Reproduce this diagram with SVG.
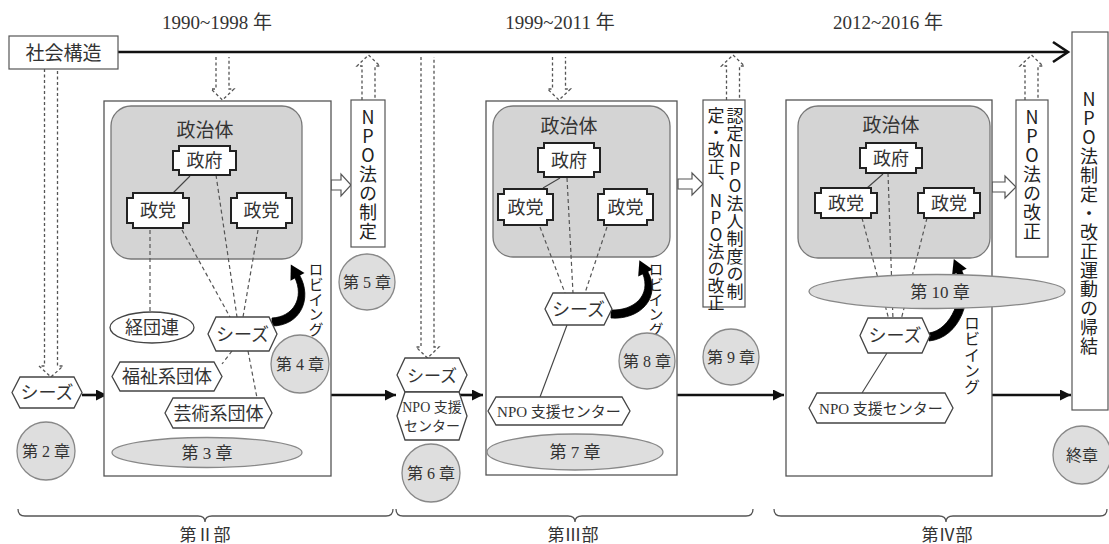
<svg xmlns="http://www.w3.org/2000/svg" width="1109" height="544" viewBox="0 0 1109 544">
<defs>
<style>
.t{font-family:"Liberation Serif","Noto Sans CJK JP",serif;fill:#333;text-anchor:middle}
.v{font-family:"Noto Sans CJK JP","Liberation Sans",sans-serif;fill:#222;writing-mode:vertical-rl;text-orientation:upright}
.panel{fill:#fff;stroke:#555;stroke-width:1.3}
.gray{fill:#d4d4d4;stroke:#777;stroke-width:1.3}
.box{fill:#fff;stroke:#555;stroke-width:1.2}
.gov{fill:#fff;stroke:#222;stroke-width:2}
.hex{fill:#fff;stroke:#444;stroke-width:1.3}
.ch{fill:#dedede;stroke:#888;stroke-width:1.3}
.dl{fill:none;stroke:#555;stroke-width:1.2;stroke-dasharray:4 3}
.sl{fill:none;stroke:#444;stroke-width:1.1}
.da{fill:none;stroke:#555;stroke-width:1.3;stroke-dasharray:3 2.5}
.flow{fill:none;stroke:#111;stroke-width:2.6}
.hol{fill:#fff;stroke:#555;stroke-width:1.2}
.lob{fill:#000;stroke:#000;stroke-width:0.8}
.brace{fill:none;stroke:#555;stroke-width:1.3}
</style>
<marker id="ah" viewBox="0 0 10 10" refX="10" refY="5" markerWidth="12" markerHeight="11" markerUnits="userSpaceOnUse" orient="auto">
<path d="M0,0 L10,5 L0,10z" fill="#111"/>
</marker>
</defs>
<rect width="1109" height="544" fill="#fff"/>

<g id="years">
<text class="t" x="217" y="29" font-size="19">1990~1998 年</text>
<text class="t" x="560" y="29" font-size="19">1999~2011 年</text>
<text class="t" x="888" y="29" font-size="19">2012~2016 年</text>
</g>

<g id="connectors">
<path class="flow" d="M118,52 L1066,52"/>
<path class="flow" d="M1053,42 L1068,52 L1053,62"/>
<polyline class="da" points="44.5,69 44.5,366 39,366 51,377 63,366 57.5,366 57.5,69"/>
<polyline class="da" points="216,57 216,89 211,89 222.5,100 234,89 229,89 229,57"/>
<polyline class="da" points="421,57 421,347 416,347 427.5,358 439,347 434,347 434,57"/>
<polyline class="da" points="552.5,57 552.5,89 547.5,89 559,100 570.5,89 565.5,89 565.5,57"/>
<polyline class="da" points="362,100 362,66 357,66 368.5,55 380,66 375,66 375,100"/>
<polyline class="da" points="726.5,100 726.5,66 721.5,66 733,55 744.5,66 739.5,66 739.5,100"/>
<polyline class="da" points="1025,100 1025,66 1020,66 1031.5,55 1043,66 1038,66 1038,100"/>
<path class="flow" d="M82,395 L107,395" marker-end="url(#ah)"/>
<path class="flow" d="M331,395 L396,395" marker-end="url(#ah)"/>
<path class="flow" d="M458,395 L483,395" marker-end="url(#ah)"/>
<path class="flow" d="M677,395 L784,395" marker-end="url(#ah)"/>
<path class="flow" d="M992,395 L1071,395" marker-end="url(#ah)"/>
<polygon class="hol" points="331,180 341,180 341,174 351,185 341,196 341,190 331,190"/>
<polygon class="hol" points="678,179 692,179 692,173 703,184 692,195 692,189 678,189"/>
<polygon class="hol" points="992,182 1005,182 1005,176 1016,187 1005,198 1005,192 992,192"/>
</g>

<g id="society">
<rect class="box" x="9" y="36" width="109" height="33"/>
<text class="t" x="63.5" y="59.5" font-size="19">社会構造</text>
</g>

<g id="seeds-left">
<path class="hex" d="M12,392.5 L20,377 L74,377 L82,392.5 L74,408 L20,408Z"/>
<text class="t" x="47" y="399" font-size="18">シーズ</text>
</g>
<g id="ch2"><circle class="ch" cx="46" cy="451" r="29"/><text class="t" x="46" y="457" font-size="16">第 2 章</text></g>

<g id="panel2">
<rect class="panel" x="104" y="101" width="227" height="375"/>
<rect class="gray" x="111" y="106" width="191" height="153" rx="20"/>
<text class="t" x="205" y="137" font-size="19">政治体</text>
<path class="sl" d="M190,176 L173,193"/>
<path class="dl" d="M150,230 L150,312 M182,230 L230,317 M216,175 L237,317 M258,230 L243,317 M232,351 L222,364 M248,351 L257,398"/>
<polygon class="gov" points="179,146 230,146 230,151 236,151 236,170 230,170 230,175 179,175 179,170 173,170 173,151 179,151"/>
<text class="t" x="204.5" y="167" font-size="18">政府</text>
<polygon class="gov" points="133,193 183,193 183,198 189,198 189,223 183,223 183,228 133,228 133,223 127,223 127,198 133,198"/>
<text class="t" x="158" y="217" font-size="18">政党</text>
<polygon class="gov" points="237,193 286,193 286,198 292,198 292,223 286,223 286,228 237,228 237,223 231,223 231,198 237,198"/>
<text class="t" x="261.5" y="217" font-size="18">政党</text>
<path class="lob" d="M272,326 C300,326 313,299 299.5,275 L294.5,277 C305,298 293,317 272,318 Z"/>
<polygon points="290.8,264.6 304.5,273.1 290.5,280.7" fill="#000"/>
<text class="v" x="316" y="262" font-size="15">ロビイング</text>
<ellipse class="hex" cx="152" cy="327.5" rx="42" ry="15.5"/>
<text class="t" x="152" y="334" font-size="18">経団連</text>
<path class="hex" d="M208,334 L216,317 L269,317 L277,334 L269,351 L216,351Z"/>
<text class="t" x="242.5" y="340.5" font-size="18">シーズ</text>
<path class="hex" d="M112,376.5 L120,362 L214,362 L222,376.5 L214,391 L120,391Z"/>
<text class="t" x="167" y="383" font-size="18">福祉系団体</text>
<path class="hex" d="M165,413 L173,398 L264,398 L272,413 L264,428 L173,428Z"/>
<text class="t" x="218.5" y="419.5" font-size="18">芸術系団体</text>
<ellipse class="ch" cx="207" cy="452.5" rx="95" ry="15"/>
<text class="t" x="207" y="458.5" font-size="17">第 3 章</text>
</g>
<g id="ch4"><circle class="ch" cx="300" cy="364" r="29"/><text class="t" x="300" y="370" font-size="16">第 4 章</text></g>

<g id="law1">
<rect class="box" x="351" y="100" width="34" height="147"/>
<text class="v" x="368" y="108" font-size="18" letter-spacing="1">NPO法の制定</text>
</g>
<g id="ch5"><circle class="ch" cx="367" cy="282" r="28"/><text class="t" x="367" y="288" font-size="16">第 5 章</text></g>

<g id="stack">
<path class="hex" d="M397,375 L405,358 L459,358 L467,375 L459,392 L405,392Z"/>
<text class="t" x="432" y="381.5" font-size="17">シーズ</text>
<path class="hex" d="M397,416 L405,392 L459,392 L467,416 L459,440 L405,440Z"/>
<text class="t" x="432" y="412" font-size="14">NPO 支援</text>
<text class="t" x="432" y="431" font-size="14">センター</text>
</g>
<g id="ch6"><circle class="ch" cx="431" cy="473" r="29"/><text class="t" x="431" y="479" font-size="16">第 6 章</text></g>

<g id="panel3">
<rect class="panel" x="486" y="101" width="191" height="374"/>
<rect class="gray" x="493" y="106" width="177" height="151" rx="20"/>
<text class="t" x="569" y="133" font-size="19">政治体</text>
<path class="sl" d="M560,178 L543,188"/>
<path class="dl" d="M540,227 L565,293 M567,178 L573,293 M607,227 L585,293"/>
<polygon class="gov" points="544,143 594,143 594,148 600,148 600,172 594,172 594,177 544,177 544,172 538,172 538,148 544,148"/>
<text class="t" x="569" y="166.5" font-size="18">政府</text>
<polygon class="gov" points="504,189 547,189 547,194 553,194 553,220 547,220 547,225 504,225 504,220 498,220 498,194 504,194"/>
<text class="t" x="525.5" y="213.5" font-size="18">政党</text>
<polygon class="gov" points="604,189 647,189 647,194 653,194 653,220 647,220 647,225 604,225 604,220 598,220 598,194 604,194"/>
<text class="t" x="625.5" y="213.5" font-size="18">政党</text>
<path class="lob" d="M611,318 C640,320 662,298 647.5,271 L642.5,273 C652,296 633,311 611,310 Z"/>
<polygon points="639.4,260.3 652.6,269.4 638.2,276.4" fill="#000"/>
<text class="v" x="656" y="262" font-size="15">ロビイング</text>
<path class="sl" d="M567,325 L540,397"/>
<path class="hex" d="M545,309 L553,293 L604,293 L612,309 L604,325 L553,325Z"/>
<text class="t" x="578.5" y="315.5" font-size="18">シーズ</text>
<path class="hex" d="M488,411 L496,397 L622,397 L630,411 L622,425 L496,425Z"/>
<text class="t" x="559" y="417" font-size="15">NPO 支援センター</text>
<ellipse class="ch" cx="575" cy="452" rx="88" ry="18"/>
<text class="t" x="575" y="458" font-size="17">第 7 章</text>
</g>
<g id="ch8"><circle class="ch" cx="647" cy="361" r="28"/><text class="t" x="647" y="367" font-size="16">第 8 章</text></g>

<g id="law2">
<rect class="box" x="703" y="100" width="42" height="207"/>
<text class="v" x="735" y="107" font-size="17" letter-spacing="0.6">認定NPO法人制度の制</text>
<text class="v" x="716" y="107" font-size="17">定・改正、NPO法の改正</text>
</g>
<g id="ch9"><circle class="ch" cx="731" cy="357" r="28"/><text class="t" x="731" y="363" font-size="16">第 9 章</text></g>

<g id="panel4">
<rect class="panel" x="786" y="100" width="206" height="376"/>
<rect class="gray" x="798" y="106" width="192" height="152" rx="20"/>
<text class="t" x="891" y="132" font-size="19">政治体</text>
<path class="sl" d="M883,174 L867,188"/>
<path class="dl" d="M862,218 L889,320 M888,173 L893,320 M927,218 L901,320"/>
<polygon class="gov" points="866,143 916,143 916,148 922,148 922,168 916,168 916,173 866,173 866,168 860,168 860,148 866,148"/>
<text class="t" x="891" y="164.5" font-size="18">政府</text>
<polygon class="gov" points="821,188 871,188 871,193 877,193 877,213 871,213 871,218 821,218 821,213 815,213 815,193 821,193"/>
<text class="t" x="846" y="209.5" font-size="18">政党</text>
<polygon class="gov" points="924,188 974,188 974,193 980,193 980,213 974,213 974,218 924,218 924,213 918,213 918,193 924,193"/>
<text class="t" x="949" y="209.5" font-size="18">政党</text>
<path class="lob" d="M929,341 C960,338 975,297 961.5,270 L956.5,272 C965,296 951,330 929,333 Z"/>
<polygon points="953.8,259.1 966.7,268.7 952.1,275.1" fill="#000"/>
<ellipse class="ch" cx="937" cy="291.5" rx="128" ry="17"/>
<text class="t" x="940" y="298" font-size="17">第 10 章</text>
<text class="v" x="972" y="315" font-size="16">ロビイング</text>
<path class="sl" d="M887,353 L862,393"/>
<path class="hex" d="M860,335.5 L868,318 L922,318 L930,335.5 L922,353 L868,353Z"/>
<text class="t" x="895" y="342" font-size="18">シーズ</text>
<path class="hex" d="M809,408 L817,393 L945,393 L953,408 L945,423 L817,423Z"/>
<text class="t" x="881" y="414" font-size="15">NPO 支援センター</text>
</g>

<g id="law3">
<rect class="box" x="1016" y="100" width="32" height="157"/>
<text class="v" x="1032" y="108" font-size="18" letter-spacing="1">NPO法の改正</text>
</g>

<g id="result">
<rect class="box" x="1072" y="32" width="36" height="378"/>
<text class="v" x="1089" y="90" font-size="18" letter-spacing="1">NPO法制定・改正運動の帰結</text>
</g>
<g id="ch-final"><circle class="ch" cx="1082" cy="455" r="29"/><text class="t" x="1082" y="461" font-size="16">終章</text></g>

<g id="parts">
<path class="brace" d="M18,509 Q18,516 25,516 L198,516 Q205,516 205,522 Q205,516 212,516 L386,516 Q393,516 393,509"/>
<path class="brace" d="M396,509 Q396,516 403,516 L568,516 Q575,516 575,522 Q575,516 582,516 L746,516 Q753,516 753,509"/>
<path class="brace" d="M774,509 Q774,516 781,516 L939,516 Q946,516 946,522 Q946,516 953,516 L1100,516 Q1107,516 1107,509"/>
<text class="t" x="205" y="541" font-size="17">第Ⅱ部</text>
<text class="t" x="573" y="541" font-size="17">第Ⅲ部</text>
<text class="t" x="947" y="541" font-size="17">第Ⅳ部</text>
</g>
</svg>
